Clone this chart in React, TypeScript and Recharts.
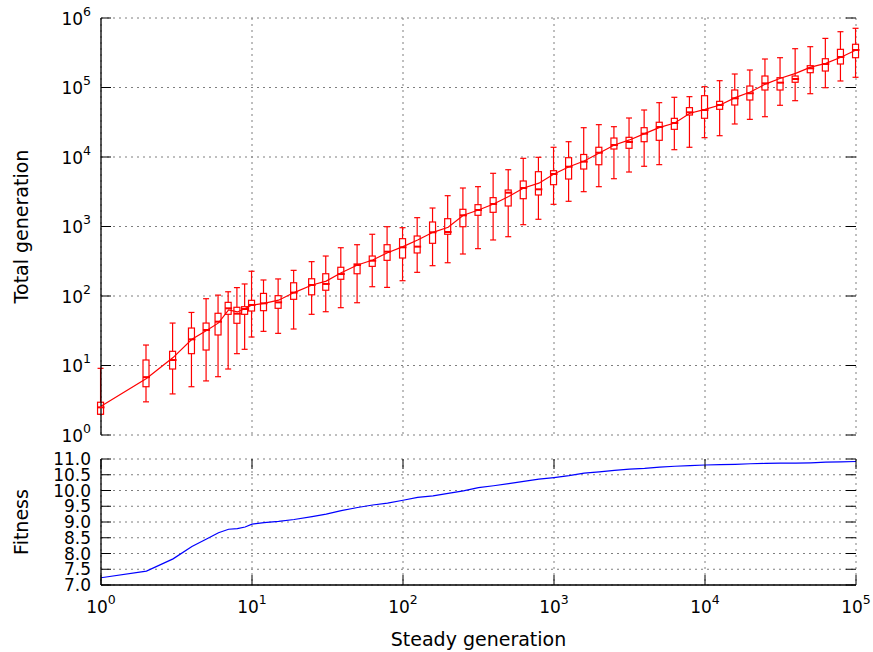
import React from 'react';
import { ComposedChart, Line, Bar, Scatter, XAxis, YAxis, CartesianGrid } from 'recharts';

// ---------- data ----------
const steadyGen = [1, 2, 3, 4, 5, 6, 7, 8, 9, 10, 12, 15, 19, 25, 31, 39, 50, 63, 79, 100, 125, 158, 199, 251, 316, 398, 501, 630, 794, 1000, 1258, 1584, 1995, 2511, 3162, 3981, 5011, 6309, 7943, 10000, 12589, 15848, 19952, 25118, 31622, 39810, 50118, 63095, 79432, 100000];

const whiskerLow = [1.99, 3.0, 3.9, 4.95, 6.0, 6.9, 8.9, 14.8, 17.1, 25.7, 31, 29, 33.5, 54.5, 59.4, 67.9, 80, 136, 133, 166, 219, 273, 301, 402, 480, 640, 713, 1062, 1270, 2086, 2305, 3170, 3740, 4870, 6080, 7350, 7760, 12740, 13800, 18970, 20250, 29850, 34800, 38000, 55460, 64600, 81400, 99300, 124100, 140300];

const q1 = [1.99, 4.95, 8.9, 14.8, 16.7, 27.5, 54.5, 40.5, 54.5, 60.8, 61.5, 66.5, 89.6, 104, 121, 174, 209, 267, 326, 352, 416, 573, 773, 993, 1449, 1600, 1972, 2512, 2840, 3995, 4820, 6714, 7740, 13030, 13340, 16600, 17380, 25000, 40200, 36060, 48550, 56000, 66070, 92000, 92000, 118900, 163300, 172600, 217800, 268400];

const median = [2.5, 6.8, 12, 23.8, 32.4, 42.7, 66.5, 55.7, 65, 74.3, 78.5, 81, 112, 144, 149, 207, 279, 322, 434, 502, 513, 825, 833, 1449, 1727, 2108, 3064, 3580, 3428, 5690, 7250, 8570, 11530, 14880, 16440, 21660, 27000, 30850, 43950, 47450, 56000, 69900, 82600, 114800, 117300, 132500, 188900, 217800, 274700, 346700];

const q3 = [2.96, 12, 16, 34.6, 40.8, 56.4, 81, 68.8, 70.2, 86.7, 109, 101, 155, 177, 209, 259, 289, 376, 547, 668, 730, 1161, 1295, 1768, 2061, 2600, 3350, 4517, 6145, 6350, 9770, 10870, 13800, 18750, 19190, 26400, 31600, 36000, 51300, 76200, 63200, 92000, 105000, 146300, 138400, 146300, 206000, 259400, 354000, 418800];

const whiskerHigh = [9.1, 19.7, 40.8, 58, 91.4, 103, 115, 132, 149, 227, 170, 176, 234, 312, 376, 495, 547, 773, 993, 961, 1340, 1845, 2775, 3580, 3742, 5826, 6561, 9570, 9900, 13800, 16600, 26400, 29200, 27300, 36400, 47450, 60500, 72300, 73800, 102700, 125300, 156400, 178500, 257000, 268400, 361600, 386500, 509000, 635000, 711000];

const meanTotal = [2.6, 6.5, 13, 23.8, 32, 41, 63, 59, 66, 74, 78.5, 87, 112, 144, 164, 216, 279, 330, 420, 513, 640, 825, 975, 1449, 1727, 2108, 2700, 3580, 4200, 5690, 7250, 8770, 11400, 14880, 17600, 21660, 26700, 30850, 42600, 48400, 56000, 71500, 86000, 112000, 136000, 160000, 196000, 222000, 272000, 347000];

const fitness = [7.23, 7.44, 7.83, 8.22, 8.46, 8.66, 8.77, 8.79, 8.84, 8.93, 8.98, 9.02, 9.08, 9.17, 9.25, 9.36, 9.46, 9.54, 9.6, 9.69, 9.78, 9.83, 9.91, 9.99, 10.09, 10.15, 10.22, 10.29, 10.36, 10.41, 10.47, 10.55, 10.59, 10.64, 10.68, 10.7, 10.74, 10.77, 10.79, 10.81, 10.82, 10.83, 10.85, 10.86, 10.87, 10.87, 10.88, 10.9, 10.91, 10.92];

const xMajorTicks = [1, 10, 100, 1000, 10000, 100000];
const xMinorTicks = [2, 3, 4, 5, 6, 7, 8, 9, 20, 30, 40, 50, 60, 70, 80, 90, 200, 300, 400, 500, 600, 700, 800, 900, 2000, 3000, 4000, 5000, 6000, 7000, 8000, 9000, 20000, 30000, 40000, 50000, 60000, 70000, 80000, 90000];
const yMajorTicks = [1, 10, 100, 1000, 10000, 100000, 1000000];
const yMinorTicks = [2, 3, 4, 5, 6, 7, 8, 9, 20, 30, 40, 50, 60, 70, 80, 90, 200, 300, 400, 500, 600, 700, 800, 900, 2000, 3000, 4000, 5000, 6000, 7000, 8000, 9000, 20000, 30000, 40000, 50000, 60000, 70000, 80000, 90000, 200000, 300000, 400000, 500000, 600000, 700000, 800000, 900000];
const fitnessTicks = [7.0, 7.5, 8.0, 8.5, 9.0, 9.5, 10.0, 10.5, 11.0];

const boxData = steadyGen.map((x, i) => ({
  x,
  whisker: [whiskerLow[i], whiskerHigh[i]],
  box: [q1[i], q3[i]],
  median: median[i],
  mean: meanTotal[i],
}));
const fitData = steadyGen.map((x, i) => ({ x, fitness: fitness[i] }));

// ---------- style ----------
const FONT = "'DejaVu Sans', sans-serif";
const W = 873;
const PW = 755;
const PH_TOP = 417;
const PH_BOT = 126;
const MAJ = 10;
const MIN = 5;
const RED = '#ff0000';
const BLUE = '#0000ff';

const Pow = ({ x, y, e, anchor }: any) => (
  <text x={x} y={y} textAnchor={anchor} fontSize={17} fontFamily={FONT} fill="#000">
    10<tspan dy={-9} fontSize={12.5}>{e}</tspan>
  </text>
);

const makeXMajorTick = (ph: number, labels: boolean) => (props: any) => {
  const { x, y, payload } = props;
  const e = Math.round(Math.log10(payload.value));
  return (
    <g>
      <line x1={x} x2={x} y1={y} y2={y - MAJ} stroke="#000" strokeWidth={1} />
      <line x1={x} x2={x} y1={y - ph} y2={y - ph + MAJ} stroke="#000" strokeWidth={1} />
      {labels && <Pow x={x} y={y + 28} e={e} anchor="middle" />}
    </g>
  );
};

const makeXMinorTick = (ph: number) => (props: any) => {
  const { x, y } = props;
  return (
    <g>
      <line x1={x} x2={x} y1={y} y2={y + MIN} stroke="#000" strokeWidth={1} />
      <line x1={x} x2={x} y1={y + ph} y2={y + ph - MIN} stroke="#000" strokeWidth={1} />
    </g>
  );
};

const YLogTick = (props: any) => {
  const { x, y, payload } = props;
  const e = Math.round(Math.log10(payload.value));
  return (
    <g>
      <line x1={x} x2={x + MAJ} y1={y} y2={y} stroke="#000" strokeWidth={1} />
      <line x1={x + PW} x2={x + PW - MAJ} y1={y} y2={y} stroke="#000" strokeWidth={1} />
      <Pow x={x - 10} y={y + 6.5} e={e} anchor="end" />
    </g>
  );
};

const YMinorTick = (props: any) => {
  const { x, y } = props;
  return (
    <g>
      <line x1={x} x2={x - MIN} y1={y} y2={y} stroke="#000" strokeWidth={1} />
      <line x1={x - PW} x2={x - PW + MIN} y1={y} y2={y} stroke="#000" strokeWidth={1} />
    </g>
  );
};

const YFitTick = (props: any) => {
  const { x, y, payload } = props;
  return (
    <g>
      <line x1={x} x2={x + MAJ} y1={y} y2={y} stroke="#000" strokeWidth={1} />
      <line x1={x + PW} x2={x + PW - MAJ} y1={y} y2={y} stroke="#000" strokeWidth={1} />
      <text x={x - 10} y={y + 6} textAnchor="end" fontSize={17} fontFamily={FONT} fill="#000">
        {Number(payload.value).toFixed(1)}
      </text>
    </g>
  );
};

const yTitle = (text: string) => (props: any) => {
  const vb = props.viewBox || {};
  const cy = vb.y + vb.height / 2;
  return (
    <text x={28} y={cy} transform={`rotate(-90, 28, ${cy})`} textAnchor="middle" fontSize={19} fontFamily={FONT} fill="#000">
      {text}
    </text>
  );
};

const xTitle = (text: string) => (props: any) => {
  const vb = props.viewBox || {};
  return (
    <text x={vb.x + vb.width / 2} y={vb.y + 61} textAnchor="middle" fontSize={19} fontFamily={FONT} fill="#000">
      {text}
    </text>
  );
};

const WhiskerShape = (p: any) => {
  const { x, y, width, height } = p;
  const cx = x + width / 2;
  return (
    <g stroke={RED} strokeWidth={1.2} fill="none">
      <line x1={cx} x2={cx} y1={y} y2={y + height} />
      <line x1={x} x2={x + width} y1={y} y2={y} />
      <line x1={x} x2={x + width} y1={y + height} y2={y + height} />
    </g>
  );
};

const BoxShape = (p: any) => {
  const { x, y, width, height } = p;
  return <rect x={x} y={y} width={width} height={height} fill="#fff" stroke={RED} strokeWidth={1.2} />;
};

const MedianShape = (p: any) => {
  const { cx, cy } = p;
  return <line x1={cx - 3.5} x2={cx + 3.5} y1={cy} y2={cy} stroke={RED} strokeWidth={2} />;
};

const grid = { stroke: '#7f7f7f', strokeDasharray: '2 4', strokeWidth: 1 };
const frame = { stroke: '#000', strokeWidth: 1.3 };

export default function App() {
  return (
    <div style={{ position: 'absolute', left: 0, top: 0, width: W, height: 652, background: '#fff' }}>
      <div style={{ position: 'absolute', left: 0, top: 0 }}>
        <ComposedChart width={W} height={445} data={boxData} margin={{ top: 18, right: 17, bottom: 10, left: 0 }}>
          <CartesianGrid xAxisId="x" yAxisId="y" {...grid} />
          <XAxis xAxisId="x" dataKey="x" type="number" scale="log" domain={[1, 100000]}
            ticks={xMajorTicks} interval={0} height={0} tickSize={0} tickMargin={0} tickLine={false}
            axisLine={frame} tick={makeXMajorTick(PH_TOP, false)} />
          <XAxis xAxisId="xb" dataKey="x" type="number" scale="log" domain={[1, 100000]}
            ticks={xMajorTicks} hide />
          <XAxis xAxisId="xm" orientation="top" dataKey="x" type="number" scale="log" domain={[1, 100000]}
            ticks={xMinorTicks} interval={0} height={0} tickSize={0} tickMargin={0} tickLine={false}
            axisLine={frame} tick={makeXMinorTick(PH_TOP)} />
          <YAxis yAxisId="y" type="number" scale="log" domain={[1, 1000000]}
            ticks={yMajorTicks} interval={0} width={101} tickSize={0} tickMargin={0} tickLine={false}
            axisLine={frame} tick={YLogTick}
            label={{ content: yTitle('Total generation') }} />
          <YAxis yAxisId="ym" orientation="right" type="number" scale="log" domain={[1, 1000000]}
            ticks={yMinorTicks} interval={0} width={0} tickSize={0} tickMargin={0} tickLine={false}
            axisLine={frame} tick={YMinorTick} />
          <Bar xAxisId="x" yAxisId="y" dataKey="whisker" barSize={6} shape={WhiskerShape} isAnimationActive={false} />
          <Bar xAxisId="xb" yAxisId="y" dataKey="box" barSize={6} shape={BoxShape} isAnimationActive={false} />
          <Scatter xAxisId="x" yAxisId="y" dataKey="median" shape={MedianShape} isAnimationActive={false} />
          <Line xAxisId="x" yAxisId="y" dataKey="mean" type="linear" stroke={RED} strokeWidth={1.2} dot={false} isAnimationActive={false} />
        </ComposedChart>
      </div>
      <div style={{ position: 'absolute', left: 0, top: 445 }}>
        <ComposedChart width={W} height={207} data={fitData} margin={{ top: 14, right: 17, bottom: 0, left: 0 }}>
          <CartesianGrid xAxisId="x" yAxisId="y" {...grid} />
          <XAxis xAxisId="x" dataKey="x" type="number" scale="log" domain={[1, 100000]}
            ticks={xMajorTicks} interval={0} height={67} tickSize={0} tickMargin={0} tickLine={false}
            axisLine={frame} tick={makeXMajorTick(PH_BOT, true)}
            label={{ content: xTitle('Steady generation') }} />
          <XAxis xAxisId="xm" orientation="top" dataKey="x" type="number" scale="log" domain={[1, 100000]}
            ticks={xMinorTicks} interval={0} height={0} tickSize={0} tickMargin={0} tickLine={false}
            axisLine={frame} tick={makeXMinorTick(PH_BOT)} />
          <YAxis yAxisId="y" type="number" domain={[7, 11]}
            ticks={fitnessTicks} interval={0} width={101} tickSize={0} tickMargin={0} tickLine={false}
            axisLine={frame} tick={YFitTick}
            label={{ content: yTitle('Fitness') }} />
          <YAxis yAxisId="ym" orientation="right" type="number" domain={[7, 11]}
            width={0} tick={false} tickLine={false} axisLine={frame} />
          <Line xAxisId="x" yAxisId="y" dataKey="fitness" type="linear" stroke={BLUE} strokeWidth={1.2} dot={false} isAnimationActive={false} />
        </ComposedChart>
      </div>
    </div>
  );
}
